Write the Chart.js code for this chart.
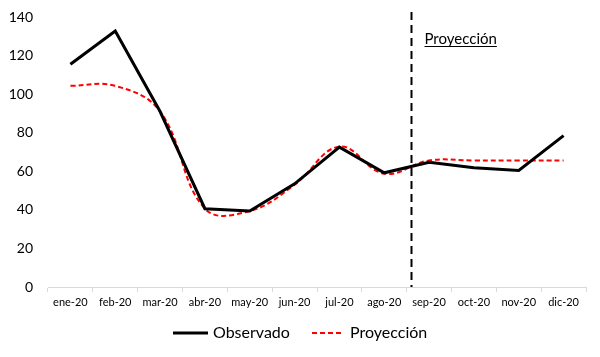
<!DOCTYPE html>
<html>
<head>
<meta charset="utf-8">
<script src="https://cdn.jsdelivr.net/npm/chart.js@4/dist/chart.umd.min.js"></script>
<style>
html,body{margin:0;padding:0;background:#fff;}
#wrap{width:600px;height:357px;position:relative;}
</style>
</head>
<body>
<div id="wrap"><canvas id="c" width="600" height="357"></canvas></div>
<script>
const categories = ['ene-20','feb-20','mar-20','abr-20','may-20','jun-20','jul-20','ago-20','sep-20','oct-20','nov-20','dic-20'];
const observado = [115.5, 132.7, 91, 40.6, 39.4, 53.5, 72.5, 59.2, 64.7, 61.8, 60.4, 78.5];
const proyeccion = [104.3, 104.3, 91, 40.6, 39.4, 53, 72.8, 58.8, 65.6, 65.6, 65.6, 65.6];
const yTicks = [0, 20, 40, 60, 80, 100, 120, 140];
const seriesNames = ['Observado', 'Proyección'];
const dividerLabel = 'Proyección';
const dividerAt = 7.6; // between ago-20 and sep-20

const FONT = 'Lato, "Open Sans", sans-serif';

const annotate = {
  id: 'annotate',
  afterDatasetsDraw(chart) {
    const {ctx, scales: {x, y}} = chart;
    const px = Math.round(x.getPixelForValue(dividerAt)) + 0.5;
    ctx.save();
    ctx.strokeStyle = '#000';
    ctx.lineWidth = 2;
    ctx.setLineDash([8, 5]);
    ctx.beginPath();
    ctx.moveTo(px, 12);
    ctx.lineTo(px, y.getPixelForValue(0));
    ctx.stroke();
    ctx.setLineDash([]);
    ctx.font = '15px ' + FONT;
    ctx.fillStyle = '#000';
    ctx.textBaseline = 'alphabetic';
    const tx = px + 13, ty = 44;
    ctx.fillText(dividerLabel, tx, ty);
    const w = ctx.measureText(dividerLabel).width;
    ctx.lineWidth = 1;
    ctx.beginPath();
    ctx.moveTo(tx, ty + 2.5);
    ctx.lineTo(tx + w, ty + 2.5);
    ctx.stroke();
    // legend
    const ly = 333;
    ctx.font = '16px ' + FONT;
    ctx.textBaseline = 'middle';
    ctx.strokeStyle = '#000';
    ctx.lineWidth = 3;
    ctx.beginPath();
    ctx.moveTo(173, ly); ctx.lineTo(208, ly); ctx.stroke();
    ctx.fillText(seriesNames[0], 213, ly);
    ctx.strokeStyle = '#ff0000';
    ctx.lineWidth = 2;
    ctx.setLineDash([5, 3]);
    ctx.beginPath();
    ctx.moveTo(312, ly); ctx.lineTo(344, ly); ctx.stroke();
    ctx.setLineDash([]);
    ctx.fillText(seriesNames[1], 350, ly);
    ctx.restore();
  }
};

new Chart(document.getElementById('c'), {
  type: 'line',
  data: {
    labels: categories,
    datasets: [
      {
        label: seriesNames[0],
        data: observado,
        borderColor: '#000',
        borderWidth: 3,
        pointRadius: 0,
        tension: 0,
        fill: false
      },
      {
        label: seriesNames[1],
        data: proyeccion,
        borderColor: '#ff0000',
        borderWidth: 2,
        borderDash: [5, 3],
        pointRadius: 0,
        tension: 0.4,
        fill: false
      }
    ]
  },
  options: {
    responsive: false,
    animation: false,
    devicePixelRatio: 1,
    layout: { padding: { top: 17, right: 14, left: 0, bottom: 0 } },
    plugins: { legend: { display: false }, tooltip: { enabled: false } },
    scales: {
      x: {
        offset: true,
        grid: { display: true, drawOnChartArea: false, drawTicks: true, tickLength: 5, color: '#d9d9d9', offset: true },
        border: { display: true, color: '#d9d9d9', width: 1 },
        ticks: { color: '#000', font: { family: FONT, size: 11 }, maxRotation: 0, autoSkip: false, padding: 4 },
        afterFit(s) { s.height = 70; }
      },
      y: {
        min: 0, max: 140,
        afterBuildTicks(s) { s.ticks = yTicks.map(v => ({ value: v })); },
        grid: { display: false, drawTicks: false },
        border: { display: false },
        ticks: { color: '#000', font: { family: FONT, size: 14 }, padding: 15 },
        afterFit(s) { s.width = 48; s.paddingTop = 0; s.paddingBottom = 0; }
      }
    }
  },
  plugins: [annotate]
});
</script>
</body>
</html>
